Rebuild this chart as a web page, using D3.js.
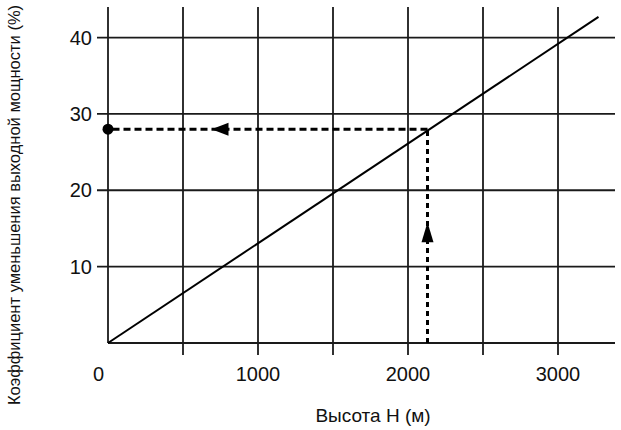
<!DOCTYPE html>
<html><head><meta charset="utf-8">
<script src="https://cdn.jsdelivr.net/npm/d3@7"></script>
<style>
html,body{margin:0;padding:0;background:#fff;}
text{font-family:"Liberation Sans",Arial,sans-serif;fill:#111;}
</style></head>
<body><svg id="c" width="621" height="430"></svg>
<script>
// Data
const xTicks = [0, 1000, 2000, 3000];
const xGrid = [500, 1000, 1500, 2000, 2500, 3000];
const yTicks = [10, 20, 30, 40];
const lineX = [0, 3270];
const lineY = [0, 42.7];
const readX = 2130;   // altitude example
const readY = 28;     // resulting coefficient
const xTitle = "Высота H (м)";
const yTitle = "Коэффициент уменьшения выходной мощности (%)";

const svg = d3.select("#c");
const x = d3.scaleLinear().domain([0, 3380]).range([108, 615]);
const y = d3.scaleLinear().domain([0, 44]).range([343, 7]);
const ink = "#1a1a1a";

// horizontal grid
svg.selectAll(".hg").data(yTicks).enter().append("line")
  .attr("x1", x(0) - 11).attr("x2", x.range()[1])
  .attr("y1", d => y(d)).attr("y2", d => y(d))
  .attr("stroke", ink).attr("stroke-width", 1.8);
// vertical grid
svg.selectAll(".vg").data(xGrid).enter().append("line")
  .attr("x1", d => x(d)).attr("x2", d => x(d))
  .attr("y1", y.range()[1]).attr("y2", y(0) + 12)
  .attr("stroke", ink).attr("stroke-width", 1.8);
// axes lines
svg.append("line").attr("x1", x(0)).attr("x2", x(0)).attr("y1", y.range()[1]).attr("y2", y(0))
  .attr("stroke", ink).attr("stroke-width", 1.8);
svg.append("line").attr("x1", x(0)).attr("x2", x.range()[1]).attr("y1", y(0)).attr("y2", y(0))
  .attr("stroke", ink).attr("stroke-width", 1.8);

// main line
const pts = lineX.map((v, i) => [v, lineY[i]]);
svg.append("path").datum(pts)
  .attr("d", d3.line().x(d => x(d[0])).y(d => y(d[1])))
  .attr("fill", "none").attr("stroke", "#000").attr("stroke-width", 2);

// dashed reading lines
svg.append("line").attr("x1", x(readX)).attr("x2", x(readX)).attr("y1", y(0)).attr("y2", y(readY))
  .attr("stroke", "#000").attr("stroke-width", 3).attr("stroke-dasharray", "5,4");
svg.append("line").attr("x1", x(readX)).attr("x2", x(0)).attr("y1", y(readY)).attr("y2", y(readY))
  .attr("stroke", "#000").attr("stroke-width", 3).attr("stroke-dasharray", "7,4");
svg.append("circle").attr("cx", x(0)).attr("cy", y(readY)).attr("r", 5.5).attr("fill", "#000");

// arrows
const ax = x(readX), ayTip = y(15.8);
svg.append("path").attr("d", `M${ax},${ayTip} L${ax-6},${ayTip+20} L${ax+6},${ayTip+20} Z`).attr("fill", "#000");
const hxTip = x(690), hy = y(readY);
svg.append("path").attr("d", `M${hxTip},${hy} L${hxTip+17},${hy-6.5} L${hxTip+17},${hy+6.5} Z`).attr("fill", "#000");

// tick labels
svg.selectAll(".yl").data(yTicks).enter().append("text")
  .attr("x", 92).attr("y", d => y(d)).attr("dy", "0.36em")
  .attr("text-anchor", "end").style("font-size", "20px").text(d => d);
svg.selectAll(".xl").data(xTicks).enter().append("text")
  .attr("x", d => d === 0 ? x(d) - 9.5 : x(d)).attr("y", y(0) + 38)
  .attr("text-anchor", "middle").style("font-size", "20px").text(d => d);

// titles
svg.append("text").attr("x", 373).attr("y", 422).attr("text-anchor", "middle")
  .style("font-size", "19px").text(xTitle);
svg.append("text").attr("transform", "translate(20,205) rotate(-90)")
  .attr("text-anchor", "middle").style("font-size", "16.5px").text(yTitle);
</script></body></html>
